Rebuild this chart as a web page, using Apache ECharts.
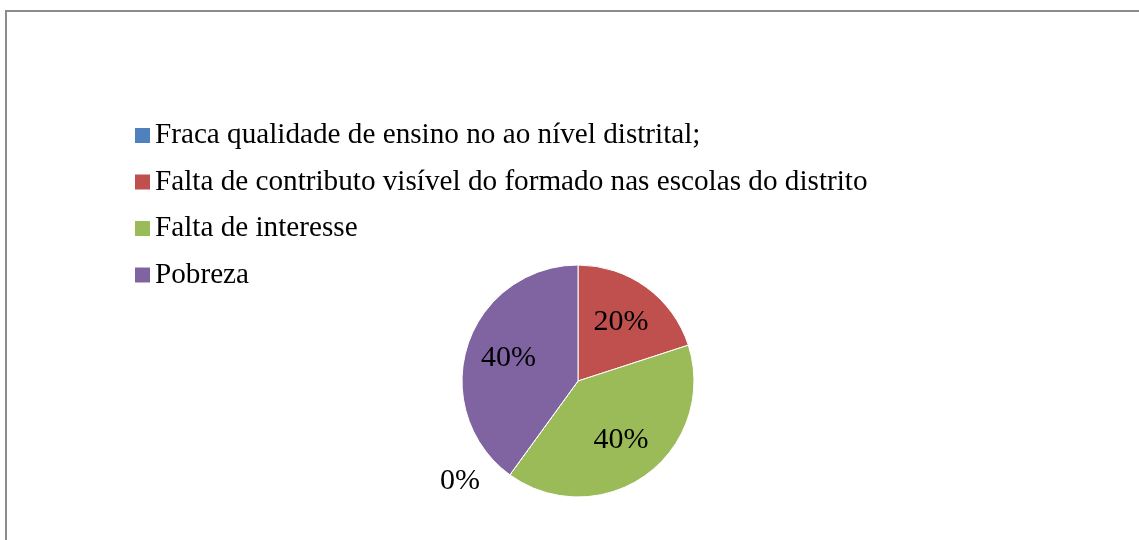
<!DOCTYPE html>
<html>
<head>
<meta charset="utf-8" />
<title>Pie</title>
<script src="https://cdn.jsdelivr.net/npm/echarts@6/dist/echarts.min.js"></script>
<style>
  * { margin: 0; padding: 0; }
  html, body { width: 1139px; height: 540px; background: #fff; overflow: hidden; }
</style>
</head>
<body>
<div id="main" style="width:1139px;height:540px;"></div>
<script>
  // legend order (as in the reference)
  const legendNames = [
    'Fraca qualidade de ensino no ao nível distrital;',
    'Falta de contributo visível do formado nas escolas do distrito',
    'Falta de interesse',
    'Pobreza'
  ];
  // slice order around the pie (clockwise from 12 o'clock)
  const sliceNames = [legendNames[1], legendNames[2], legendNames[0], legendNames[3]];
  const sliceValues = [20, 40, 0, 40];
  const colors = {};
  colors[legendNames[0]] = '#4F81BD';
  colors[legendNames[1]] = '#C0504D';
  colors[legendNames[2]] = '#9BBB59';
  colors[legendNames[3]] = '#8064A2';

  const font = 'Liberation Serif';

  const pieData = sliceNames.map((n, i) => ({
    name: n,
    value: sliceValues[i],
    itemStyle: { color: colors[n] },
    label: sliceValues[i] === 0 ? { show: true } : { show: false }
  }));

  // transparent copy, only used to put the inner labels a bit further out
  const labelData = sliceNames.map((n, i) => ({
    name: n,
    value: sliceValues[i],
    label: { show: sliceValues[i] !== 0 }
  }));

  const chart = echarts.init(document.getElementById('main'));
  chart.setOption({
    animation: false,
    legend: {
      orient: 'vertical',
      left: 135,
      top: 121,
      padding: 0,
      data: legendNames,
      icon: 'rect',
      itemWidth: 15,
      itemHeight: 15,
      itemGap: 17.5,
      itemStyle: { borderWidth: 0 },
      textStyle: { fontFamily: font, fontSize: 29.2, color: '#000', lineHeight: 29 }
    },
    graphic: [{
      type: 'rect',
      shape: { x: 6, y: 11, width: 1300, height: 700 },
      style: { fill: 'none', stroke: '#8c8c8c', lineWidth: 2 },
      silent: true
    }],
    series: [
      {
        type: 'pie',
        center: [578, 381],
        radius: 116,
        startAngle: 90,
        stillShowZeroSum: true,
        data: pieData,
        itemStyle: { borderColor: '#fff', borderWidth: 1 },
        label: {
          position: 'outside',
          formatter: '{c}%',
          fontFamily: font,
          fontSize: 30,
          color: '#000'
        },
        labelLine: { show: false, length: 8, length2: 20 },
        emphasis: { scale: false }
      },
      {
        type: 'pie',
        center: [578, 381],
        radius: [0, 140],
        startAngle: 90,
        silent: true,
        data: labelData,
        itemStyle: { color: 'rgba(0,0,0,0)' },
        label: {
          position: 'inside',
          formatter: '{c}%',
          fontFamily: font,
          fontSize: 30,
          color: '#000'
        },
        labelLine: { show: false }
      }
    ]
  });
</script>
</body>
</html>
